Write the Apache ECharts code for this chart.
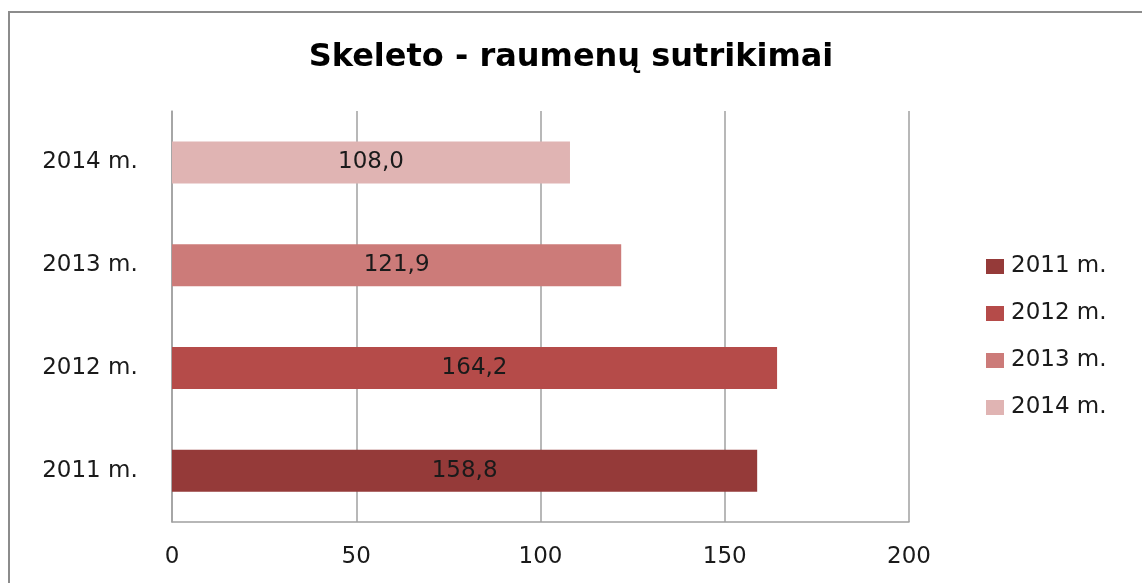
<!DOCTYPE html>
<html>
<head>
<meta charset="utf-8">
<script src="https://cdn.jsdelivr.net/npm/echarts@6/dist/echarts.min.js"></script>
<style>
  html, body { margin: 0; padding: 0; background: #fff; }
  #main { width: 1142px; height: 583px; }
</style>
</head>
<body>
<div id="main"></div>
<script>
// data
var categories = ['2011 m.', '2012 m.', '2013 m.', '2014 m.']
var values = [158.8, 164.2, 121.9, 108.0]
var colors = ['#953a39', '#b54b49', '#cc7b79', '#e0b4b3']
var xTicks = [0, 50, 100, 150, 200]

var font = 'DejaVu Sans'

// one series per year so every year gets its own legend entry
var series = categories.map(function (name, i) {
  var data = categories.map(function (c, j) {
    return j === i ? values[i] : '-'
  })
  return {
    name: name,
    type: 'bar',
    stack: 'all',
    barWidth: 42,
    itemStyle: { color: colors[i] },
    label: {
      show: true,
      position: 'inside',
      color: '#1a1a1a',
      fontFamily: font,
      fontSize: 23,
      formatter: function (p) {
        return p.value.toFixed(1).replace('.', ',')
      }
    },
    data: data
  }
})

var chart = echarts.init(document.getElementById('main'))
chart.setOption({
  animation: false,
  title: {
    text: 'Skeleto - raumenų sutrikimai',
    left: 'center',
    top: 37,
    textStyle: { fontFamily: font, fontSize: 32, fontWeight: 'bold', color: '#000' }
  },
  graphic: [{
    type: 'rect',
    shape: { x: 9, y: 12, width: 1200, height: 700 },
    style: { fill: null, stroke: '#8c8c8c', lineWidth: 2 }
  }],
  legend: {
    orient: 'vertical',
    left: 986,
    top: 255,
    padding: 0,
    itemWidth: 18,
    itemHeight: 15,
    itemGap: 24,
    icon: 'rect',
    data: categories,
    textStyle: { fontFamily: font, fontSize: 23, color: '#1a1a1a', padding: [0, 0, 0, 2] }
  },
  grid: { left: 172, right: 233, top: 111, bottom: 61 },
  xAxis: {
    type: 'value',
    min: xTicks[0],
    max: xTicks[xTicks.length - 1],
    interval: 50,
    axisLine: { show: true, lineStyle: { color: '#a0a0a0', width: 1.5 } },
    axisTick: { show: false },
    splitLine: { show: true, lineStyle: { color: '#a0a0a0', width: 1.5 } },
    axisLabel: { margin: 24, fontFamily: font, fontSize: 23, color: '#1a1a1a' }
  },
  yAxis: {
    type: 'category',
    data: categories,
    axisLine: { show: true, lineStyle: { color: '#a0a0a0', width: 1.5 } },
    axisTick: { show: false },
    axisLabel: { margin: 82, align: 'center', fontFamily: font, fontSize: 23, color: '#1a1a1a' }
  },
  series: series
})
</script>
</body>
</html>
